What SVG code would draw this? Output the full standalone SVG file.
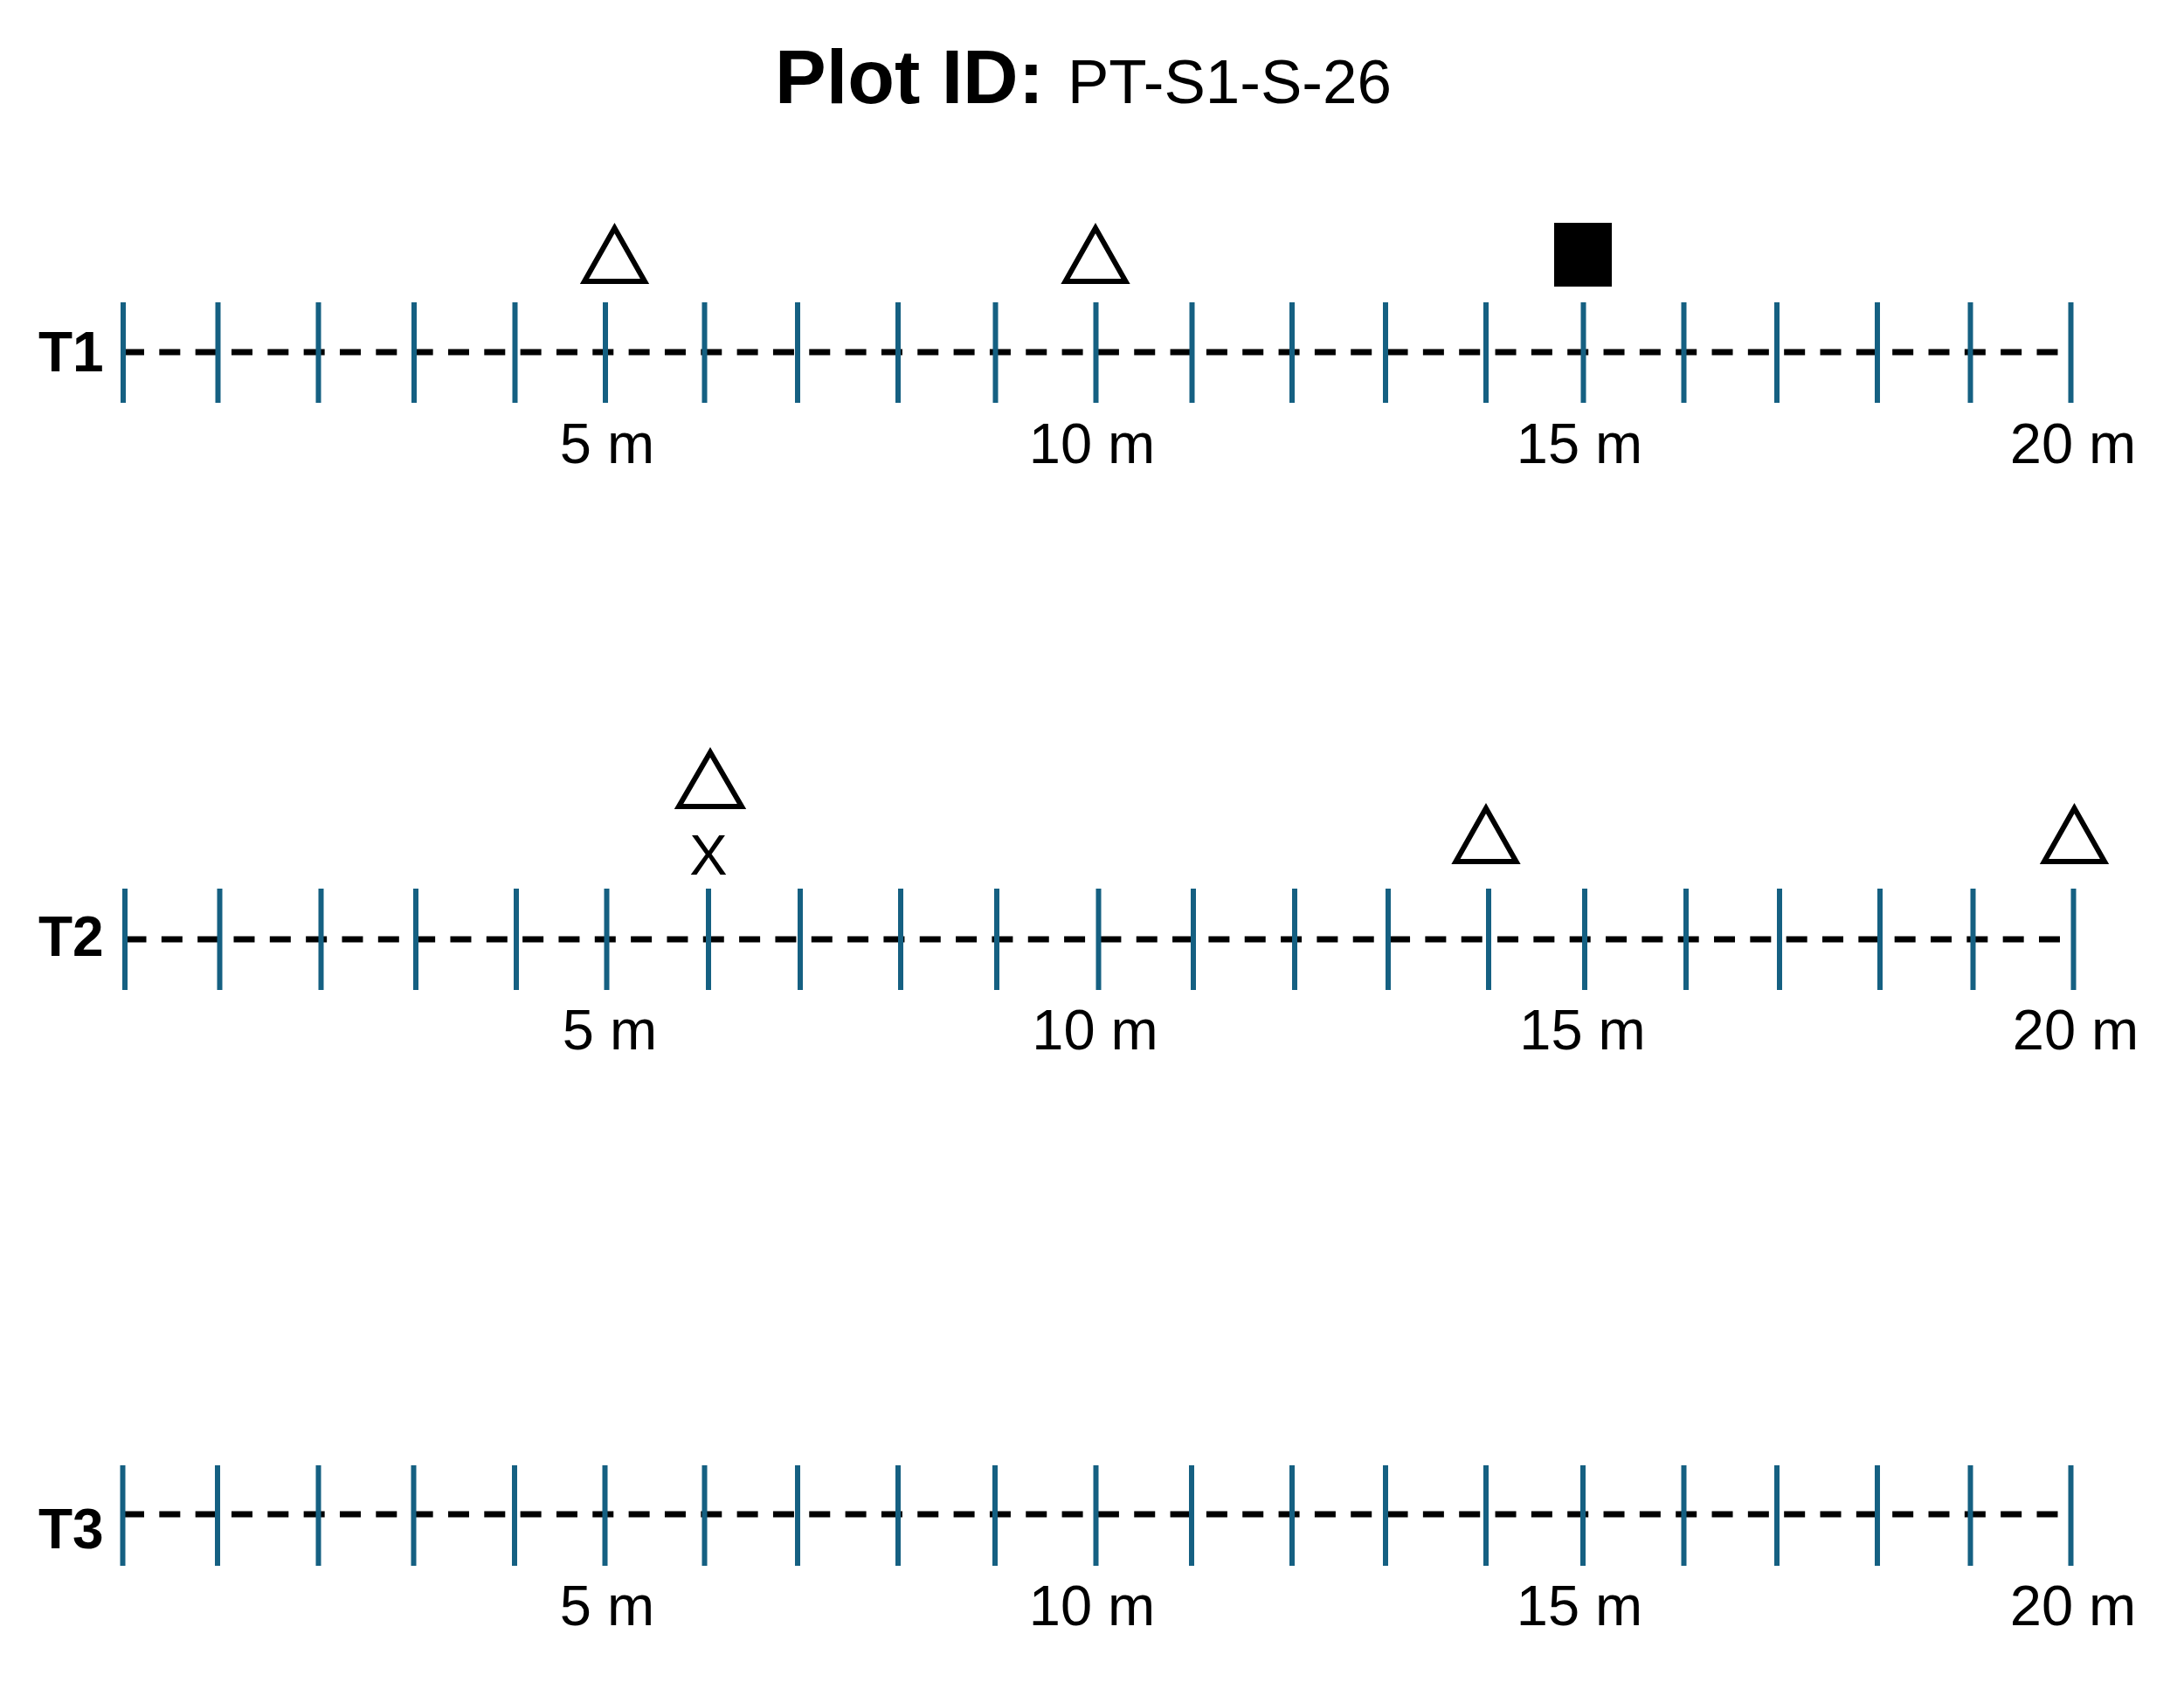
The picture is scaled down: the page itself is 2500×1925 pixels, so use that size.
<svg xmlns="http://www.w3.org/2000/svg" width="2500" height="1925" viewBox="0 0 2500 1925">
<style>
.tick{stroke:#156082;stroke-width:6;fill:none}
.dash{stroke:#000;stroke-width:7;stroke-dasharray:24 17.33;fill:none}
.tri{fill:#fff;stroke:#000;stroke-width:6;stroke-linejoin:miter}
.lab{font-family:"Liberation Sans",Arial,sans-serif;font-size:65px;fill:#000;text-anchor:middle}
.tid{font-family:"Liberation Sans",Arial,sans-serif;font-size:64px;font-weight:bold;fill:#000}
</style>
<rect width="2500" height="1925" fill="#fff"/>
<g id="title">
<text x="887" y="117.5" font-family="Liberation Sans,Arial,sans-serif" font-size="88" font-weight="bold">Plot ID:</text>
<text x="1222" y="117.5" font-family="Liberation Sans,Arial,sans-serif" font-size="71">PT-S1-S-26</text>
</g>
<g id="connectors">
<path class="dash" d="M141 403H2356"/>
<path class="dash" d="M143.5 1075H2360"/>
<path class="dash" d="M141 1733H2356"/>
</g>
<g id="T1">
<text class="tid" x="44" y="425">T1</text>
<path class="tick" d="M141 346V461M249.5 346V461M364.5 346V461M474 346V461M589.5 346V461M693 346V461M806.5 346V461M913 346V461M1028 346V461M1139.5 346V461M1254.5 346V461M1364.5 346V461M1479 346V461M1586 346V461M1701 346V461M1812.5 346V461M1927.5 346V461M2034 346V461M2149 346V461M2255.5 346V461M2370.5 346V461"/>
<text class="lab" x="695" y="530">5 m</text>
<text class="lab" x="1250" y="530">10 m</text>
<text class="lab" x="1808" y="530">15 m</text>
<text class="lab" x="2373" y="530">20 m</text>
</g>
<g id="T1-markers">
<polygon class="tri" points="703.5,261 669,322 738,322"/>
<polygon class="tri" points="1254,261 1219.5,322 1288.5,322"/>
<rect x="1779" y="255" width="66" height="73" fill="#000"/>
</g>
<g id="T2">
<text class="tid" x="44" y="1094">T2</text>
<path class="tick" d="M143 1017V1133M251.5 1017V1133M367.5 1017V1133M476 1017V1133M591 1017V1133M694.5 1017V1133M811 1017V1133M916 1017V1133M1031 1017V1133M1141 1017V1133M1257.5 1017V1133M1366 1017V1133M1482 1017V1133M1589 1017V1133M1704 1017V1133M1814 1017V1133M1930 1017V1133M2037 1017V1133M2152 1017V1133M2258.5 1017V1133M2373.5 1017V1133"/>
<text class="lab" x="698" y="1201">5 m</text>
<text class="lab" x="1253.5" y="1201">10 m</text>
<text class="lab" x="1811.5" y="1201">15 m</text>
<text class="lab" x="2376" y="1201">20 m</text>
</g>
<g id="T2-markers">
<polygon class="tri" points="813,861 777,923 849,923"/>
<text class="lab" x="811" y="1001" font-size="64">X</text>
<polygon class="tri" points="1701,925 1666.5,986 1735.5,986"/>
<polygon class="tri" points="2374.5,925 2340,986 2409,986"/>
</g>
<g id="T3">
<text class="tid" x="44" y="1772">T3</text>
<path class="tick" d="M140.5 1677V1792M249 1677V1792M364.5 1677V1792M473.5 1677V1792M589 1677V1792M692.5 1677V1792M806.5 1677V1792M913 1677V1792M1028 1677V1792M1139 1677V1792M1254.5 1677V1792M1364 1677V1792M1479 1677V1792M1586 1677V1792M1701 1677V1792M1812 1677V1792M1927.5 1677V1792M2034 1677V1792M2149 1677V1792M2255.5 1677V1792M2370.5 1677V1792"/>
<text class="lab" x="695" y="1860">5 m</text>
<text class="lab" x="1250" y="1860">10 m</text>
<text class="lab" x="1808" y="1860">15 m</text>
<text class="lab" x="2373" y="1860">20 m</text>
</g>
</svg>
